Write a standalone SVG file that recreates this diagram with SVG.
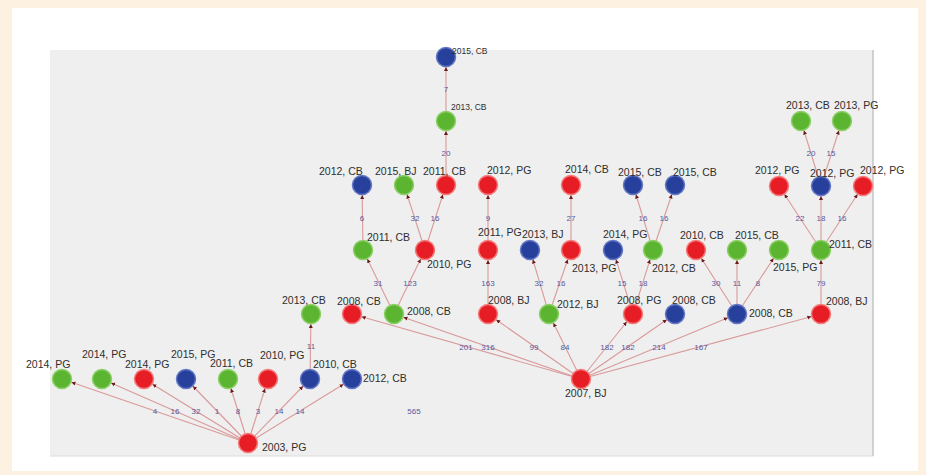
<svg xmlns="http://www.w3.org/2000/svg" width="926" height="475" viewBox="0 0 926 475">
<style>
.e{stroke:#d99a9a;stroke-width:1.1;fill:none;marker-end:url(#arr)}
.r{fill:#e71d25;stroke:#f27c7c;stroke-width:1.5}
.g{fill:#5cb531;stroke:#8dcf68;stroke-width:1.5}
.b{fill:#27409b;stroke:#6377c4;stroke-width:1.5}
.t{font-family:"Liberation Sans",Arial,sans-serif;font-size:10.5px;fill:#2e2e2e}
.ts{font-family:"Liberation Sans",Arial,sans-serif;font-size:8.5px;fill:#2e2e2e}
.w{font-family:"Liberation Sans",Arial,sans-serif;font-size:8px;fill:#55589f;text-anchor:middle;dominant-baseline:central}
</style>
<defs>
<marker id="arr" viewBox="0 -3 16 6" refX="14" refY="0" markerWidth="16" markerHeight="6" markerUnits="userSpaceOnUse" orient="auto">
<path d="M0,-2 L4,0 L0,2 z" fill="#6b1a1a"/>
</marker>
</defs>
<rect x="0" y="0" width="926" height="475" fill="#fdf1e2"/>
<rect x="12" y="8" width="906" height="463" fill="#ffffff"/>
<rect x="50" y="50" width="823" height="406" fill="#efefef"/>
<line x1="873" y1="50" x2="873" y2="456" stroke="#c4c4c4" stroke-width="1.5"/>
<line x1="50" y1="456" x2="873" y2="456" stroke="#dcdcdc" stroke-width="1"/>

<g id="connectors">
<line class="e" x1="248" y1="443" x2="62" y2="379"/>
<line class="e" x1="248" y1="443" x2="102" y2="379"/>
<line class="e" x1="248" y1="443" x2="144" y2="379"/>
<line class="e" x1="248" y1="443" x2="186" y2="379"/>
<line class="e" x1="248" y1="443" x2="228" y2="379"/>
<line class="e" x1="248" y1="443" x2="268" y2="379"/>
<line class="e" x1="248" y1="443" x2="310" y2="379"/>
<line class="e" x1="248" y1="443" x2="352" y2="379"/>
<line class="e" x1="310" y1="379" x2="311" y2="314"/>
<line class="e" x1="581" y1="379" x2="352" y2="314"/>
<line class="e" x1="581" y1="379" x2="394" y2="314"/>
<line class="e" x1="581" y1="379" x2="488" y2="314"/>
<line class="e" x1="581" y1="379" x2="549" y2="314"/>
<line class="e" x1="581" y1="379" x2="633" y2="314"/>
<line class="e" x1="581" y1="379" x2="675" y2="314"/>
<line class="e" x1="581" y1="379" x2="737" y2="314"/>
<line class="e" x1="581" y1="379" x2="821" y2="314"/>
<line class="e" x1="394" y1="314" x2="363" y2="250"/>
<line class="e" x1="394" y1="314" x2="425" y2="250"/>
<line class="e" x1="488" y1="314" x2="488" y2="250"/>
<line class="e" x1="549" y1="314" x2="530" y2="250"/>
<line class="e" x1="549" y1="314" x2="571" y2="250"/>
<line class="e" x1="633" y1="314" x2="613" y2="250"/>
<line class="e" x1="633" y1="314" x2="653" y2="250"/>
<line class="e" x1="737" y1="314" x2="696" y2="250"/>
<line class="e" x1="737" y1="314" x2="737" y2="250"/>
<line class="e" x1="737" y1="314" x2="779" y2="250"/>
<line class="e" x1="821" y1="314" x2="821" y2="250"/>
<line class="e" x1="363" y1="250" x2="362" y2="185"/>
<line class="e" x1="425" y1="250" x2="404" y2="185"/>
<line class="e" x1="425" y1="250" x2="446" y2="185"/>
<line class="e" x1="488" y1="250" x2="488" y2="185"/>
<line class="e" x1="571" y1="250" x2="571" y2="185"/>
<line class="e" x1="653" y1="250" x2="633" y2="185"/>
<line class="e" x1="653" y1="250" x2="675" y2="185"/>
<line class="e" x1="821" y1="250" x2="779" y2="186"/>
<line class="e" x1="821" y1="250" x2="821" y2="186"/>
<line class="e" x1="821" y1="250" x2="863" y2="186"/>
<line class="e" x1="446" y1="185" x2="446" y2="121"/>
<line class="e" x1="821" y1="186" x2="801" y2="121"/>
<line class="e" x1="821" y1="186" x2="842" y2="121"/>
<line class="e" x1="446" y1="121" x2="446" y2="57"/>
<text class="w" x="155" y="411">4</text>
<text class="w" x="175" y="411">16</text>
<text class="w" x="196" y="411">32</text>
<text class="w" x="217" y="411">1</text>
<text class="w" x="238" y="411">8</text>
<text class="w" x="258" y="411">3</text>
<text class="w" x="279" y="411">14</text>
<text class="w" x="300" y="411">14</text>
<text class="w" x="311" y="346">11</text>
<text class="w" x="414" y="411">565</text>
<text class="w" x="466" y="347">201</text>
<text class="w" x="488" y="347">316</text>
<text class="w" x="534" y="347">99</text>
<text class="w" x="565" y="347">84</text>
<text class="w" x="607" y="347">182</text>
<text class="w" x="628" y="347">182</text>
<text class="w" x="659" y="347">214</text>
<text class="w" x="701" y="347">167</text>
<text class="w" x="378" y="283">31</text>
<text class="w" x="410" y="283">123</text>
<text class="w" x="488" y="283">163</text>
<text class="w" x="539" y="283">32</text>
<text class="w" x="561" y="283">16</text>
<text class="w" x="622" y="283">15</text>
<text class="w" x="643" y="283">18</text>
<text class="w" x="716" y="283">30</text>
<text class="w" x="737" y="283">11</text>
<text class="w" x="758" y="283">8</text>
<text class="w" x="821" y="283">79</text>
<text class="w" x="362" y="218">6</text>
<text class="w" x="415" y="218">32</text>
<text class="w" x="435" y="218">16</text>
<text class="w" x="488" y="218">9</text>
<text class="w" x="571" y="218">27</text>
<text class="w" x="643" y="218">16</text>
<text class="w" x="664" y="218">16</text>
<text class="w" x="800" y="218">22</text>
<text class="w" x="821" y="218">18</text>
<text class="w" x="842" y="218">16</text>
<text class="w" x="446" y="153">20</text>
<text class="w" x="811" y="153">20</text>
<text class="w" x="831" y="153">15</text>
<text class="w" x="446" y="89">7</text>
</g>

<g id="n2003PG"><circle class="r" cx="248" cy="443" r="9.5"/><text class="t" x="262" y="451">2003, PG</text></g>
<g id="a1"><circle class="g" cx="62" cy="379" r="9.5"/><text class="t" x="26" y="368">2014, PG</text></g>
<g id="a2"><circle class="g" cx="102" cy="379" r="9.5"/><text class="t" x="82" y="358">2014, PG</text></g>
<g id="a3"><circle class="r" cx="144" cy="379" r="9.5"/><text class="t" x="125" y="368">2014, PG</text></g>
<g id="a4"><circle class="b" cx="186" cy="379" r="9.5"/><text class="t" x="171" y="358">2015, PG</text></g>
<g id="a5"><circle class="g" cx="228" cy="379" r="9.5"/><text class="t" x="210" y="367">2011, CB</text></g>
<g id="a6"><circle class="r" cx="268" cy="379" r="9.5"/><text class="t" x="260" y="359">2010, PG</text></g>
<g id="a7"><circle class="b" cx="310" cy="379" r="9.5"/><text class="t" x="313" y="368">2010, CB</text></g>
<g id="a8"><circle class="b" cx="352" cy="379" r="9.5"/><text class="t" x="363" y="382">2012, CB</text></g>
<g id="b1"><circle class="g" cx="311" cy="314" r="9.5"/><text class="t" x="282" y="304">2013, CB</text></g>

<g id="n2007BJ"><circle class="r" cx="581" cy="379" r="9.5"/><text class="t" x="565" y="397">2007, BJ</text></g>
<g id="c1"><circle class="r" cx="352" cy="314" r="9.5"/><text class="t" x="337" y="305">2008, CB</text></g>
<g id="c2"><circle class="g" cx="394" cy="314" r="9.5"/><text class="t" x="407" y="315">2008, CB</text></g>
<g id="c3"><circle class="r" cx="488" cy="314" r="9.5"/><text class="t" x="488" y="304">2008, BJ</text></g>
<g id="c4"><circle class="g" cx="549" cy="314" r="9.5"/><text class="t" x="557" y="308">2012, BJ</text></g>
<g id="c5"><circle class="r" cx="633" cy="314" r="9.5"/><text class="t" x="617" y="304">2008, PG</text></g>
<g id="c6"><circle class="b" cx="675" cy="314" r="9.5"/><text class="t" x="672" y="304">2008, CB</text></g>
<g id="c7"><circle class="b" cx="737" cy="314" r="9.5"/><text class="t" x="749" y="317">2008, CB</text></g>
<g id="c8"><circle class="r" cx="821" cy="314" r="9.5"/><text class="t" x="826" y="305">2008, BJ</text></g>

<g id="d1"><circle class="g" cx="363" cy="250" r="9.5"/><text class="t" x="367" y="241">2011, CB</text></g>
<g id="d2"><circle class="r" cx="425" cy="250" r="9.5"/><text class="t" x="427" y="268">2010, PG</text></g>
<g id="d3"><circle class="r" cx="488" cy="250" r="9.5"/><text class="t" x="478" y="236">2011, PG</text></g>
<g id="d4"><circle class="b" cx="530" cy="250" r="9.5"/><text class="t" x="522" y="238">2013, BJ</text></g>
<g id="d5"><circle class="r" cx="571" cy="250" r="9.5"/><text class="t" x="572" y="272">2013, PG</text></g>
<g id="d6"><circle class="b" cx="613" cy="250" r="9.5"/><text class="t" x="603" y="238">2014, PG</text></g>
<g id="d7"><circle class="g" cx="653" cy="250" r="9.5"/><text class="t" x="652" y="272">2012, CB</text></g>
<g id="d8"><circle class="r" cx="696" cy="250" r="9.5"/><text class="t" x="680" y="239">2010, CB</text></g>
<g id="d9"><circle class="g" cx="737" cy="250" r="9.5"/><text class="t" x="735" y="239">2015, CB</text></g>
<g id="d10"><circle class="g" cx="779" cy="250" r="9.5"/><text class="t" x="773" y="271">2015, PG</text></g>
<g id="d11"><circle class="g" cx="821" cy="250" r="9.5"/><text class="t" x="829" y="248">2011, CB</text></g>

<g id="e1"><circle class="b" cx="362" cy="185" r="9.5"/><text class="t" x="319" y="175">2012, CB</text></g>
<g id="e2"><circle class="g" cx="404" cy="185" r="9.5"/><text class="t" x="375" y="175">2015, BJ</text></g>
<g id="e3"><circle class="r" cx="446" cy="185" r="9.5"/><text class="t" x="423" y="175">2011, CB</text></g>
<g id="e4"><circle class="r" cx="488" cy="185" r="9.5"/><text class="t" x="487" y="174">2012, PG</text></g>
<g id="e5"><circle class="r" cx="571" cy="185" r="9.5"/><text class="t" x="565" y="173">2014, CB</text></g>
<g id="e6"><circle class="b" cx="633" cy="185" r="9.5"/><text class="t" x="618" y="176">2015, CB</text></g>
<g id="e7"><circle class="b" cx="675" cy="185" r="9.5"/><text class="t" x="673" y="176">2015, CB</text></g>
<g id="e8"><circle class="r" cx="779" cy="186" r="9.5"/><text class="t" x="755" y="174">2012, PG</text></g>
<g id="e9"><circle class="b" cx="821" cy="186" r="9.5"/><text class="t" x="810" y="177">2012, PG</text></g>
<g id="e10"><circle class="r" cx="863" cy="186" r="9.5"/><text class="t" x="860" y="174">2012, PG</text></g>

<g id="f1"><circle class="g" cx="446" cy="121" r="9.5"/><text class="ts" x="451" y="110">2013, CB</text></g>
<g id="f2"><circle class="g" cx="801" cy="121" r="9.5"/><text class="t" x="786" y="109">2013, CB</text></g>
<g id="f3"><circle class="g" cx="842" cy="121" r="9.5"/><text class="t" x="834" y="109">2013, PG</text></g>
<g id="g1"><circle class="b" cx="446" cy="57" r="9.5"/><text class="ts" x="452" y="54">2015, CB</text></g>
</svg>
